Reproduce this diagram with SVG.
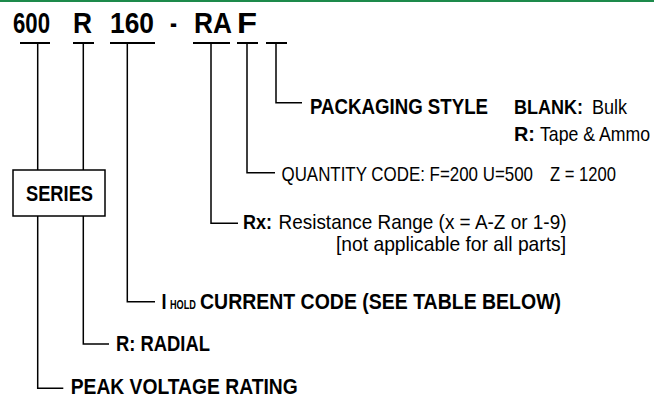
<svg xmlns="http://www.w3.org/2000/svg" width="654" height="398" viewBox="0 0 654 398">
<style>
  text { font-family: "Liberation Sans", Arial, sans-serif; fill: #000; }
  .code { font-size: 29px; font-weight: bold; }
  .b { font-size: 22px; font-weight: bold; }
  .sb { font-size: 20px; font-weight: bold; }
  .r { font-size: 20px; font-weight: normal; }
  .sc { font-size: 13px; font-weight: bold; }
  .bar { stroke: #000; stroke-width: 2; fill: none; }
  .ln { stroke: #000; stroke-width: 1.5; fill: none; }
</style>
<rect x="0" y="0" width="654" height="2" fill="#1d8a4b"/>
<g id="part-number">
  <text class="code" x="13" y="33" textLength="37" lengthAdjust="spacingAndGlyphs">600</text>
  <text class="code" x="73" y="33" textLength="19" lengthAdjust="spacingAndGlyphs">R</text>
  <text class="code" x="110" y="33" textLength="44" lengthAdjust="spacingAndGlyphs">160</text>
  <text class="code" x="170" y="33" textLength="7" lengthAdjust="spacingAndGlyphs">-</text>
  <text class="code" x="194" y="33" textLength="38" lengthAdjust="spacingAndGlyphs">RA</text>
  <text class="code" x="237" y="33" textLength="20" lengthAdjust="spacingAndGlyphs">F</text>
</g>
<g id="connectors">
  <path class="bar" d="M20 43H50 M73 43H94 M110 43H155 M193 43H230 M237 43H258 M266 43H287"/>
  <path class="ln" d="M37.7 43V388.3H63.3"/>
  <path class="ln" d="M83.3 43V344H109"/>
  <path class="ln" d="M127.3 43V301.7H155"/>
  <path class="ln" d="M211 43V223.3H238"/>
  <path class="ln" d="M247 43V172.7H275"/>
  <path class="ln" d="M276 43V102.7H302"/>
</g>
<g id="series">
  <rect x="13" y="170" width="92" height="46" fill="#fff" stroke="#000" stroke-width="1.5"/>
  <text class="b" x="26" y="201" textLength="67" lengthAdjust="spacingAndGlyphs">SERIES</text>
</g>
<g id="packaging-style">
  <text class="b" x="310" y="114" textLength="178" lengthAdjust="spacingAndGlyphs">PACKAGING STYLE</text>
  <text class="sb" transform="translate(514,113.5) scale(0.9,1)" textLength="76.7" lengthAdjust="spacingAndGlyphs">BLANK:</text>
  <text class="r" transform="translate(592,113.5) scale(0.9,1)" textLength="39" lengthAdjust="spacingAndGlyphs">Bulk</text>
  <text class="sb" x="514" y="140.5" textLength="21" lengthAdjust="spacingAndGlyphs">R:</text>
  <text class="r" transform="translate(540,140.5) scale(0.86,1)" textLength="127.9" lengthAdjust="spacingAndGlyphs">Tape &amp; Ammo</text>
</g>
<g id="quantity-code">
  <text class="r" transform="translate(281.5,181) scale(0.85,1)" textLength="295.9" lengthAdjust="spacingAndGlyphs">QUANTITY CODE: F=200 U=500</text>
  <text class="r" transform="translate(550,181) scale(0.85,1)" textLength="77.6" lengthAdjust="spacingAndGlyphs">Z = 1200</text>
</g>
<g id="resistance-range">
  <text class="sb" x="243" y="229" textLength="29" lengthAdjust="spacingAndGlyphs">Rx:</text>
  <text class="r" transform="translate(278.5,229) scale(0.9,1)" textLength="320" lengthAdjust="spacingAndGlyphs">Resistance Range (x = A-Z or 1-9)</text>
  <text class="r" transform="translate(336,250.5) scale(0.9,1)" textLength="255.6" lengthAdjust="spacingAndGlyphs">[not applicable for all parts]</text>
</g>
<g id="ihold-code">
  <text class="b" transform="translate(161.5,309) scale(0.82,1)" textLength="6.1" lengthAdjust="spacingAndGlyphs">I</text>
  <text class="sc" transform="translate(170,309) scale(0.7,1)" textLength="37.1" lengthAdjust="spacingAndGlyphs">HOLD</text>
  <text class="b" transform="translate(200,309) scale(0.85,1)" textLength="424.7" lengthAdjust="spacingAndGlyphs">CURRENT CODE (SEE TABLE BELOW)</text>
</g>
<g id="radial">
  <text class="b" x="116" y="351" textLength="94" lengthAdjust="spacingAndGlyphs">R: RADIAL</text>
</g>
<g id="peak-voltage">
  <text class="b" x="70.7" y="394.3" textLength="227" lengthAdjust="spacingAndGlyphs">PEAK VOLTAGE RATING</text>
</g>
</svg>
